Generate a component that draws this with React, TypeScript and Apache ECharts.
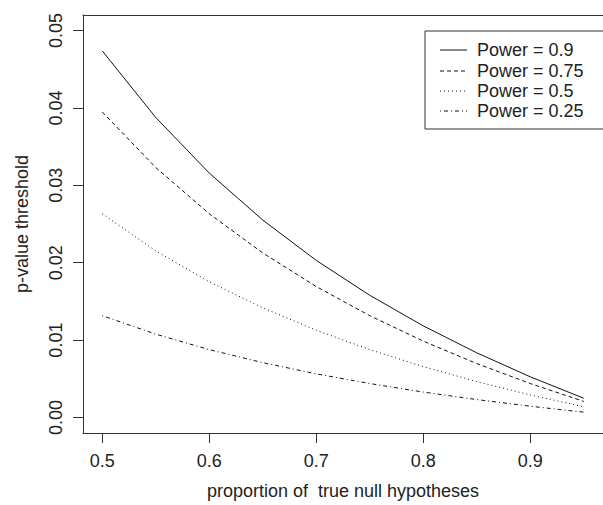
import React, { useEffect, useRef } from "react";
import * as echarts from "echarts";

const proportions = [0.5, 0.55, 0.6, 0.65, 0.7, 0.75, 0.8, 0.85, 0.9, 0.95];
const power090 = [0.04737, 0.03876, 0.03158, 0.02551, 0.0203, 0.01579, 0.01184, 0.00836, 0.00526, 0.00249];
const power075 = [0.03947, 0.0323, 0.02632, 0.02126, 0.01692, 0.01316, 0.00987, 0.00697, 0.00439, 0.00208];
const power050 = [0.02632, 0.02153, 0.01754, 0.01417, 0.01128, 0.00877, 0.00658, 0.00464, 0.00292, 0.00139];
const power025 = [0.01316, 0.01077, 0.00877, 0.00709, 0.00564, 0.00439, 0.00329, 0.00232, 0.00146, 0.00069];

const seriesNames = ["Power = 0.9", "Power = 0.75", "Power = 0.5", "Power = 0.25"];
const xTicks = [0.5, 0.6, 0.7, 0.8, 0.9];
const yTicks = [0, 0.01, 0.02, 0.03, 0.04, 0.05];

const FONT = "'Liberation Sans', Arial, Helvetica, sans-serif";
const dashes: any[] = ["solid", [4, 3], [1, 3], [1, 3, 4, 3]];

export default function App() {
  const ref = useRef<HTMLDivElement>(null);
  useEffect(() => {
    if (!ref.current) return;
    const chart = echarts.init(ref.current, undefined, { renderer: "svg" });
    const allSeries = [power090, power075, power050, power025];
    const legendTop = 31;
    const legendLeft = 425;
    const rowY = [50, 71, 91, 111];
    const graphics: any[] = [
      {
        type: "rect",
        shape: { x: legendLeft, y: legendTop, width: 190, height: 98 },
        style: { fill: "#fff", stroke: "#333", lineWidth: 1 },
        z: 100,
      },
    ];
    seriesNames.forEach((name, i) => {
      graphics.push({
        type: "line",
        shape: { x1: 440, y1: rowY[i], x2: 467, y2: rowY[i] },
        style: { stroke: "#111", lineWidth: 1, lineDash: dashes[i] === "solid" ? null : dashes[i] },
        z: 101,
      });
      graphics.push({
        type: "text",
        x: 477,
        y: rowY[i],
        style: {
          text: name,
          fill: "#222",
          font: `18px ${FONT}`,
          verticalAlign: "middle",
          align: "left",
        },
        z: 101,
      });
    });

    const lineCol = "#333";
    chart.setOption({
      animation: false,
      backgroundColor: "#fff",
      grid: {
        left: 83,
        top: 15,
        width: 522,
        height: 426,
        show: false,
      },
      xAxis: [
        {
          type: "value",
          min: 0.482,
          max: 0.968,
          position: "bottom",
          name: "proportion of  true null hypotheses",
          nameLocation: "middle",
          nameGap: 49,
          nameTextStyle: { fontFamily: FONT, fontSize: 18, color: "#222" },
          axisLine: { show: true, onZero: false, lineStyle: { color: lineCol, width: 1 } },
          splitLine: { show: false },
          axisTick: {
            show: true,
            length: 10,
            inside: false,
            customValues: xTicks,
            lineStyle: { color: lineCol, width: 1 },
          },
          axisLabel: {
            show: true,
            customValues: xTicks,
            margin: 19,
            fontFamily: FONT,
            fontSize: 18,
            color: "#222",
            formatter: (v: number) => v.toFixed(1),
          },
        },
        {
          type: "value",
          min: 0.482,
          max: 0.968,
          position: "top",
          axisLine: { show: true, onZero: false, lineStyle: { color: lineCol, width: 1 } },
          splitLine: { show: false },
          axisTick: { show: false },
          axisLabel: { show: false },
        },
      ],
      yAxis: {
        type: "value",
        min: -0.002,
        max: 0.052,
        name: "p-value threshold",
        nameLocation: "middle",
        nameGap: 52,
        nameRotate: 90,
        nameTextStyle: { fontFamily: FONT, fontSize: 18, color: "#222" },
        axisLine: { show: true, onZero: false, lineStyle: { color: lineCol, width: 1 } },
        splitLine: { show: false },
        axisTick: {
          show: true,
          length: 10,
          inside: false,
          customValues: yTicks,
          lineStyle: { color: lineCol, width: 1 },
        },
        axisLabel: {
          show: true,
          customValues: yTicks,
          rotate: 90,
          margin: 18,
          fontFamily: FONT,
          fontSize: 18,
          color: "#222",
          formatter: (v: number) => v.toFixed(2),
        },
      },
      series: allSeries.map((vals, i) => ({
        name: seriesNames[i],
        type: "line",
        symbol: "none",
        xAxisIndex: 0,
        data: proportions.map((p, j) => [p, vals[j]]),
        lineStyle: { color: "#111", width: 1, type: dashes[i] },
      })),
      graphic: graphics,
    });
    return () => chart.dispose();
  }, []);
  return (
    <div
      ref={ref}
      style={{ position: "absolute", left: 0, top: 0, width: 603, height: 505 }}
    />
  );
}
